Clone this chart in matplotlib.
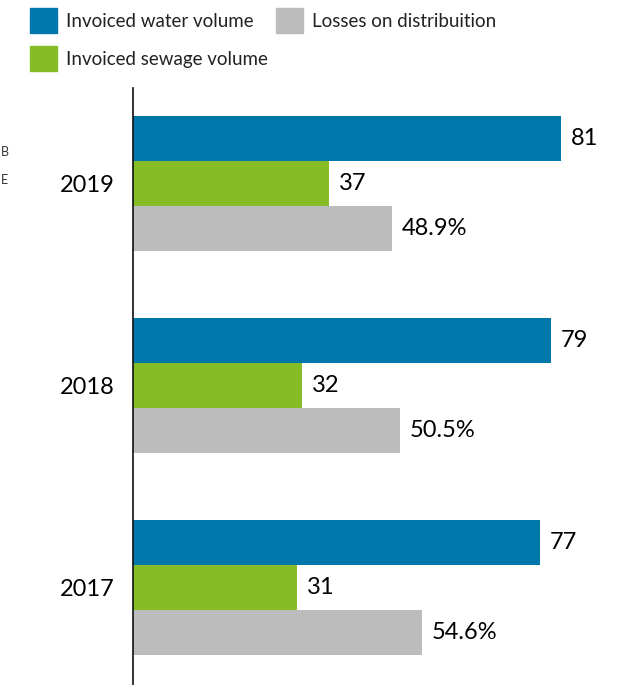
import matplotlib
matplotlib.use("Agg")
import matplotlib.pyplot as plt
from matplotlib.patches import Rectangle

plt.rcParams['font.family'] = ['Lato', 'DejaVu Sans']

years = ["2017", "2018", "2019"]
water_volume = [77, 79, 81]
sewage_volume = [31, 32, 37]
losses_pct = [54.6, 50.5, 48.9]

series_names = ["Invoiced water volume", "Invoiced sewage volume", "Losses on distribuition"]
colors = ["#0077AA", "#86BC25", "#BBBCBB"]

W, H = 623, 685
fig = plt.figure(figsize=(W / 100, H / 100), dpi=100)
ax = fig.add_axes([133 / W, 0, (W - 133) / W, 1 - 88 / H])

bar_h = 0.223
ypos = list(range(len(years)))
series = [water_volume, sewage_volume, losses_pct]
offsets = [bar_h, 0, -bar_h]
for vals, off, col in zip(series, offsets, colors):
    y = [p + off for p in ypos]
    ax.barh(y, vals, height=bar_h, color=col, edgecolor="none")

label_size = 17
for i, p in enumerate(ypos):
    ax.annotate(f"{water_volume[i]}", (water_volume[i], p + bar_h), xytext=(7, 0),
                textcoords="offset points", va="center", ha="left", fontsize=label_size)
    ax.annotate(f"{sewage_volume[i]}", (sewage_volume[i], p), xytext=(7, 0),
                textcoords="offset points", va="center", ha="left", fontsize=label_size)
    ax.annotate(f"{losses_pct[i]}%", (losses_pct[i], p - bar_h), xytext=(7, 0),
                textcoords="offset points", va="center", ha="left", fontsize=label_size)

ax.set_xlim(0, (W - 133) / 5.29)
ax.set_ylim(-0.483, 2.473)
ax.set_yticks(ypos)
ax.set_yticklabels(years, fontsize=label_size)
ax.tick_params(axis="y", length=0, pad=13)
ax.set_xticks([])
for s in ["top", "right", "bottom"]:
    ax.spines[s].set_visible(False)
ax.spines["left"].set_linewidth(1.2)
ax.spines["left"].set_color("#111111")

# legend drawn in figure pixels
legend_items = [(30, 8, 0), (30, 46, 1), (276, 8, 2)]
for x, y, k in legend_items:
    fig.patches.append(Rectangle((x / W, 1 - (y + 25) / H), 27 / W, 25 / H,
                                 transform=fig.transFigure, color=colors[k]))
    fig.text((x + 36) / W, 1 - (y + 13.5) / H, series_names[k], fontsize=13.5,
             va="center", ha="left", color="#222222")

# side notes
fig.text(1 / W, 1 - 152 / H, "B", fontsize=9, va="center", ha="left", color="#333333")
fig.text(1 / W, 1 - 180 / H, "E", fontsize=9, va="center", ha="left", color="#333333")

fig.savefig("out.png", dpi=100)
